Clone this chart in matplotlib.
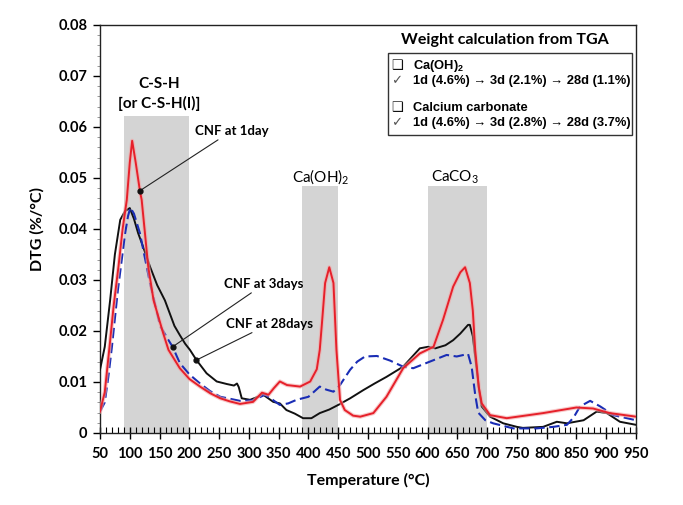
import matplotlib
matplotlib.use("Agg")
import matplotlib.pyplot as plt
from matplotlib.ticker import MultipleLocator, FuncFormatter

plt.rcParams['font.family'] = ['Lato', 'DejaVu Sans']

# ---- data ----
t_1d = [50, 58, 66, 73, 81, 88, 95, 100, 104, 110, 117, 120, 131, 140, 156, 165, 184, 200, 218, 235, 252,
        268, 285, 307, 322, 333, 342, 352, 364, 386, 403, 414, 419, 423, 428, 435, 442, 447, 453,
        461, 475, 487, 509, 531, 559, 587, 610, 626, 643, 655, 663, 671, 676, 680, 686, 691, 705, 733,
        794, 850, 878, 906, 950]
v_1d = [0.0042, 0.008, 0.0169, 0.025, 0.0326, 0.040, 0.0457, 0.053, 0.0573, 0.053, 0.0475, 0.0457, 0.0326,
        0.026, 0.0196, 0.0163, 0.0127, 0.0106, 0.0091, 0.0078, 0.0068, 0.0062, 0.0057, 0.0061, 0.0079,
        0.0075, 0.0088, 0.0101, 0.0094, 0.0091, 0.0101, 0.0125, 0.0163, 0.022, 0.0294, 0.0325, 0.0294,
        0.0163, 0.0065, 0.0045, 0.0034, 0.0032, 0.0039, 0.0071, 0.0127, 0.0156, 0.0169, 0.0222, 0.0287,
        0.0315, 0.0325, 0.0294, 0.024, 0.0163, 0.009, 0.0058, 0.0035, 0.0029, 0.0039, 0.005, 0.0048,
        0.0039, 0.0032]

t_3d = [50, 58, 64, 70, 80, 92, 97, 101, 107, 117, 134, 151, 165, 172, 184, 200, 218, 235, 252, 285,
        307, 327, 340, 352, 366, 380, 400, 419, 430, 442, 453, 462, 470, 482, 495, 515, 537, 559, 576,
        604, 632, 649, 668, 674, 680, 685, 697, 710, 744, 783, 811, 834, 845, 856, 873, 890, 912, 950]
v_3d = [0.0042, 0.006, 0.011, 0.0169, 0.028, 0.039, 0.0425, 0.0442, 0.043, 0.0392, 0.0294,
        0.021, 0.0182, 0.0169, 0.0137, 0.0115, 0.0097, 0.0082, 0.0071, 0.0063, 0.0064, 0.0075, 0.0065,
        0.0055, 0.0058, 0.0065, 0.0071, 0.0091, 0.0085, 0.0081, 0.0094, 0.011, 0.0124, 0.014, 0.015,
        0.0151, 0.0142, 0.013, 0.0127, 0.014, 0.0153, 0.015, 0.0155, 0.013, 0.0075, 0.004, 0.0025,
        0.0019, 0.0009, 0.0009, 0.0012, 0.0016, 0.003, 0.0052, 0.0063, 0.0052, 0.0035, 0.0025]

t_28d = [50, 58, 67, 75, 84, 92, 100, 107, 114, 124, 134, 146, 159, 175, 184, 193, 201, 212, 229, 246,
         263, 275, 280, 283, 288, 302, 324, 341, 352, 363, 377, 391, 405, 419, 435, 450, 470, 492,
         511, 531, 559, 587, 601, 613, 630, 643, 655, 668, 671, 676, 682, 687, 691, 705, 727, 750, 760,
         794, 817, 834, 862, 884, 901, 923, 950]
v_28d = [0.0124, 0.0169, 0.026, 0.035, 0.0418, 0.0435, 0.0441, 0.042, 0.0392, 0.036, 0.0326, 0.029,
         0.026, 0.021, 0.0192, 0.0175, 0.0163, 0.0143, 0.0117, 0.0101, 0.0096, 0.0093, 0.0097, 0.009,
         0.0068, 0.0065, 0.0075, 0.0061, 0.0058, 0.0045, 0.0038, 0.0029, 0.0029, 0.0039, 0.0046,
         0.0055, 0.0068, 0.0084, 0.0097, 0.011, 0.013, 0.0166, 0.0169, 0.0166, 0.0172, 0.0182, 0.0195,
         0.0212, 0.0212, 0.019, 0.013, 0.008, 0.0052, 0.0032, 0.0019, 0.0012, 0.001, 0.0012, 0.0022,
         0.0019, 0.0025, 0.0042, 0.0039, 0.0022, 0.0016]

# shaded regions: (start, end, top)
band_starts = [90, 390, 600]
band_ends = [200, 450, 700]
band_tops = [0.0622, 0.0485, 0.0485]
band_labels = ["C-S-H\n[or C-S-H(I)]", "Ca(OH)$_\\mathregular{2}$", "CaCO$_\\mathregular{3}$"]

x_ticks = list(range(50, 951, 50))
y_ticks = [0, 0.01, 0.02, 0.03, 0.04, 0.05, 0.06, 0.07, 0.08]

# ---- figure ----
plt.rcParams['mathtext.fontset'] = 'custom'
plt.rcParams['mathtext.bf'] = 'Lato:bold'
plt.rcParams['mathtext.rm'] = 'Lato'

fig = plt.figure(figsize=(6.83, 5.05), dpi=100)
ax = fig.add_axes([0.1464, 0.1426, 0.9312 - 0.1464, 0.9505 - 0.1426])

for s, e, t in zip(band_starts, band_ends, band_tops):
    ax.fill_between([s, e], [0, 0], [t, t], color='#d4d4d4', lw=0, zorder=0)

ax.plot(t_28d, v_28d, color='#111111', lw=1.4, zorder=3)
ax.plot(t_3d, v_3d, color='#1a2db5', lw=1.5, dashes=(5, 2.2), zorder=3)
ax.plot(t_1d, v_1d, color='#f3a6a6', lw=3.0, alpha=0.6, zorder=4, solid_joinstyle='round')
ax.plot(t_1d, v_1d, color='#e6202a', lw=1.4, zorder=4)

ax.set_xlim(50, 950)
ax.set_ylim(0, 0.08)
ax.set_xticks(x_ticks)
ax.set_yticks(y_ticks)
ax.xaxis.set_minor_locator(MultipleLocator(10))
ax.yaxis.set_minor_locator(MultipleLocator(0.002))
ax.yaxis.set_major_formatter(FuncFormatter(lambda v, p: '0' if abs(v) < 1e-9 else f'{v:.2f}'))
ax.tick_params(axis='x', which='major', direction='inout', length=8, width=1, labelsize=10.5, pad=6)
ax.tick_params(axis='x', which='minor', direction='in', length=4, width=0.8)
ax.tick_params(axis='y', which='major', direction='out', length=5, width=1, labelsize=10.5, pad=4)
ax.tick_params(axis='y', which='minor', direction='out', length=2.5, width=0.6, color='#888888')
for lab in ax.get_xticklabels() + ax.get_yticklabels():
    lab.set_fontweight('bold')
for sp in ax.spines.values():
    sp.set_linewidth(1.0)
    sp.set_color('#222222')

ax.set_xlabel('Temperature (°C)', fontsize=11.5, fontweight='bold', labelpad=9)
ax.set_ylabel('DTG (%/°C)', fontsize=11.5, fontweight='bold', labelpad=10)

# band labels
ax.text(150, 0.0684, "C-S-H", ha='center', va='center', fontsize=11, fontweight='bold')
ax.text(150, 0.0647, "[or C-S-H(I)]", ha='center', va='center', fontsize=11, fontweight='bold')
ax.text(421, 0.0502, band_labels[1], ha='center', va='center', fontsize=11)
ax.text(646, 0.0502, band_labels[2], ha='center', va='center', fontsize=11)

# annotations
ann_kw = dict(fontsize=9.5, fontweight='bold', va='center', ha='left',
              arrowprops=dict(arrowstyle='-', color='#222222', lw=0.8, shrinkA=0, shrinkB=0))
ax.annotate('CNF at 1day', xy=(117, 0.0475), xytext=(209, 0.0592), **ann_kw)
ax.annotate('CNF at 3days', xy=(172, 0.0169), xytext=(259, 0.0292), **ann_kw)
ax.annotate('CNF at 28days', xy=(212, 0.0143), xytext=(262, 0.0214), **ann_kw)
ax.plot([117, 172, 212], [0.0475, 0.0169, 0.0143], 'o', color='#111111', ms=3.5, zorder=6)

# info box
ax.text(0.756, 0.963, 'Weight calculation from TGA', transform=ax.transAxes, ha='center', va='center',
        fontsize=11.5, fontweight='bold')
ax.add_patch(plt.Rectangle((0.537, 0.730), 0.9925 - 0.537, 0.931 - 0.730, transform=ax.transAxes,
                           fill=False, lw=1.0, ec='#333333', zorder=5))
fam = ['Liberation Sans', 'DejaVu Sans']
sym_x = (397 - 100) / 536
txt_x = (413 - 100) / 536
rows_py = [66, 81, 108, 123]
rows_sym = ['❑', '✓', '❑', '✓']
rows_txt = ['Ca(OH)$_\\mathregular{2}$', '1d (4.6%) → 3d (2.1%) → 28d (1.1%)',
            'Calcium carbonate', '1d (4.6%) → 3d (2.8%) → 28d (3.7%)']
for py, s, t in zip(rows_py, rows_sym, rows_txt):
    yf = (433 - py) / 408
    ax.text(sym_x, yf, s, transform=ax.transAxes, ha='center', va='center', fontsize=9.5,
            family=['DejaVu Sans'], fontweight='bold', color='#111111' if s == '❑' else '#555555')
    ax.text(txt_x, yf, t, transform=ax.transAxes, ha='left', va='center', fontsize=9.3,
            fontweight='bold', family=fam)

fig.savefig('out.png', dpi=100)
